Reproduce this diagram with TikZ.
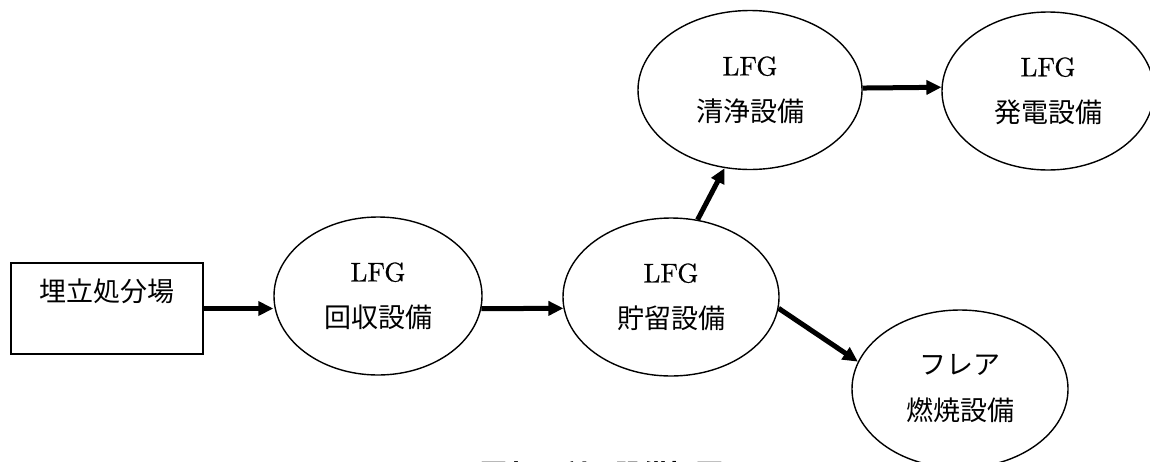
\documentclass[tikz,border=0pt]{standalone}
\usepackage{fontspec}
\setmainfont{lmroman10-regular.otf}[BoldFont=lmroman10-bold.otf]
\newfontfamily\lfgfont{lmroman10-regular.otf}[FakeBold=0.6]
\newfontfamily\cjk{Noto Sans CJK JP}
\usetikzlibrary{shapes.geometric,arrows.meta}
% text size used inside the diagram
\newcommand\bigtext{\fontsize{27}{46}\selectfont}

\begin{document}
\begin{tikzpicture}[x=1pt,y=-1pt,
  unit/.style={ellipse,draw,line width=1.4pt,inner sep=0pt,
    align=center,font=\bigtext\lfgfont},
  sitebox/.style={rectangle,draw,line width=2pt,inner sep=0pt,
    minimum width=192pt,minimum height=91pt},
  flow/.style={line width=5pt,-{Triangle[length=15pt,width=14pt]}},
  ja/.style={font=\bigtext\cjk}]
\useasboundingbox (0,0) rectangle (1150,461);
\clip (0,0) rectangle (1150,461);

% landfill site
\node[sitebox] (landfill) at (107,308.5) {};
\node[ja] (landfilltext) at (107,291) {埋立処分場};

% gas handling units
\node[unit,minimum width=208pt,minimum height=158pt] (collect) at (378,296)
  {LFG\\{\cjk 回収設備}};
\node[unit,minimum width=216pt,minimum height=158pt] (store) at (671,297)
  {LFG\\{\cjk 貯留設備}};
\node[unit,minimum width=224pt,minimum height=159pt] (purify) at (750,90)
  {LFG\\{\cjk 清浄設備}};
\node[unit,minimum width=212pt,minimum height=158pt] (power) at (1048,91)
  {LFG\\{\cjk 発電設備}};
\node[unit,minimum width=216pt,minimum height=158pt] (flare) at (960,389)
  {{\cjk フレア}\\{\cjk 燃焼設備}};

% gas flow
\draw[flow] (landfill.east) -- (landfill.east -| collect.west);
\draw[flow] (collect.-7) -- (store.186);
\draw[flow] (store.71) -- (purify.252);
\draw[flow] (purify.1) -- (power.178);
\draw[flow] (store.-6) -- (flare.165);

% figure caption
\node[anchor=base,font=\fontsize{27}{32}\selectfont\bfseries] (caption) at (540,484)
  {{\cjk 図} 1-1 LFG{\cjk 回収・利用設備概要図}};
\end{tikzpicture}
\end{document}
